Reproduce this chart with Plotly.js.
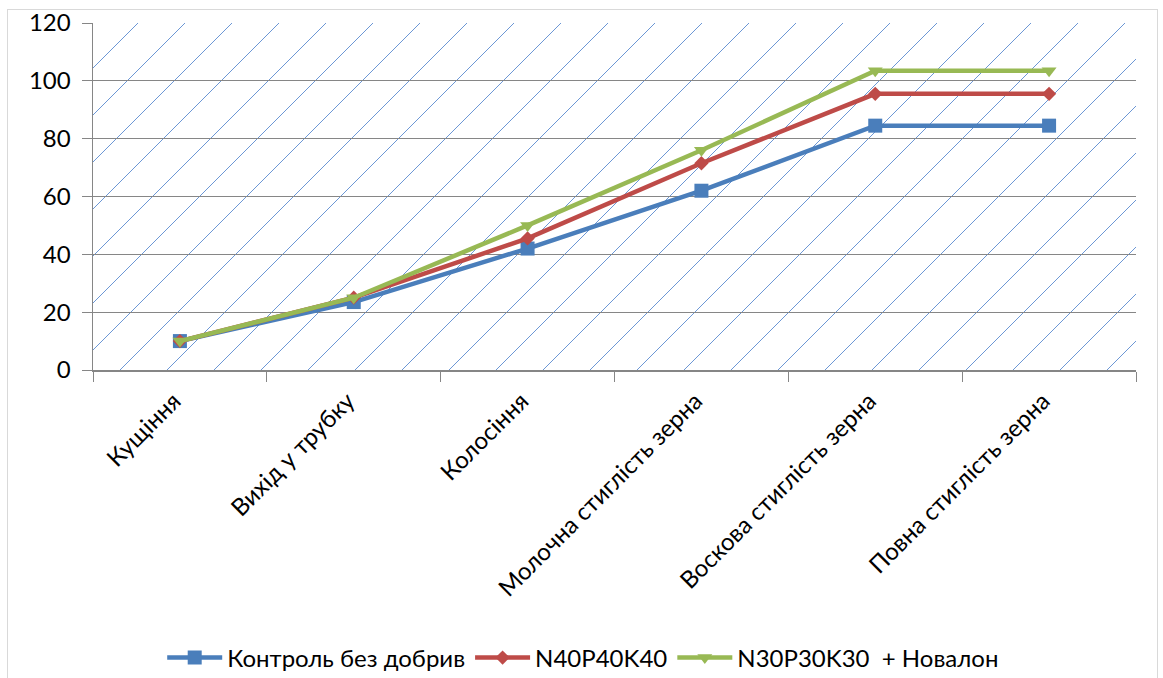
<!DOCTYPE html>
<html>
<head>
<meta charset="utf-8">
<script src="https://cdn.plot.ly/plotly-3.0.1.min.js"></script>
<style>
  html, body { margin:0; padding:0; background:#ffffff; }
  #wrap { position:relative; width:1163px; height:678px; overflow:hidden; background:#ffffff; }
  #frame { position:absolute; left:7px; top:9px; width:1151px; height:700px; border:1.5px solid #d9d9d9; box-sizing:border-box; }
  #hatch { position:absolute; left:93px; top:23px; }
  #chart { position:absolute; left:0; top:0; width:1163px; height:678px; }
</style>
</head>
<body>
<div id="wrap">
  <div id="frame"></div>
  <svg id="hatch" width="1043" height="347" xmlns="http://www.w3.org/2000/svg">
    <defs>
      <pattern id="diag" width="47" height="47" patternUnits="userSpaceOnUse" x="-2" y="0">
        <line x1="-1" y1="48" x2="48" y2="-1" stroke="#5b8bd0" stroke-width="0.9"/>
      </pattern>
    </defs>
    <rect x="0" y="0" width="1043" height="347" fill="url(#diag)"/>
  </svg>
  <div id="chart"></div>
</div>
<script>
const categories = ["Кущіння", "Вихід у трубку", "Колосіння", "Молочна стиглість зерна", "Воскова стиглість зерна", "Повна стиглість зерна"];
const seriesNames = ["Контроль без добрив", "N40P40K40", "N30P30K30  + Новалон"];
const control = [10, 23.5, 42, 62, 84.5, 84.5];
const n40 = [10, 25, 45.5, 71.5, 95.5, 95.5];
const n30 = [10, 25, 50, 76, 103.5, 103.5];
const yTicks = [0, 20, 40, 60, 80, 100, 120];

const FONT = "Lato, 'Open Sans', sans-serif";

const traces = [
  { x: categories, y: control, name: seriesNames[0], type: "scatter", mode: "lines+markers",
    line: { color: "#4a7ebb", width: 4.5 }, marker: { symbol: "square", size: 14, color: "#4a7ebb" } },
  { x: categories, y: n40, name: seriesNames[1], type: "scatter", mode: "lines+markers",
    line: { color: "#be4b48", width: 4.5 }, marker: { symbol: "diamond", size: 11, color: "#be4b48" } },
  { x: categories, y: n30, name: seriesNames[2], type: "scatter", mode: "lines+markers",
    line: { color: "#98b954", width: 4.5 }, marker: { symbol: "triangle-down", size: 13, color: "#98b954" } }
];

const layout = {
  width: 1163, height: 678,
  margin: { l: 93, r: 27, t: 23, b: 308, autoexpand: false },
  paper_bgcolor: "rgba(0,0,0,0)",
  plot_bgcolor: "rgba(0,0,0,0)",
  font: { family: FONT, size: 24, color: "#000000" },
  showlegend: true,
  legend: { orientation: "h", x: 0.47, xanchor: "center", y: -0.83, yanchor: "middle",
    font: { family: FONT, size: 24, color: "#000000" }, bgcolor: "rgba(0,0,0,0)", itemwidth: 55 },
  xaxis: {
    type: "category", range: [-0.5, 5.5], tickangle: -45, automargin: false,
    ticks: "outside", tickson: "boundaries", ticklen: 10, tickcolor: "#868686", tickwidth: 1,
    showline: true, linecolor: "#868686", linewidth: 1.5,
    showgrid: false, zeroline: false, ticklabelstandoff: 6, ticklabelshift: -6,
    tickfont: { family: FONT, size: 24, color: "#000000" }
  },
  yaxis: {
    range: [0, 120], tickvals: yTicks, ticktext: yTicks.map(String), automargin: false,
    ticks: "outside", ticklen: 10, tickcolor: "#868686", tickwidth: 1,
    showline: true, linecolor: "#868686", linewidth: 1.5,
    showgrid: true, gridcolor: "#868686", gridwidth: 1.2, zeroline: false,
    tickfont: { family: FONT, size: 24, color: "#000000" }, ticklabelstandoff: 6
  }
};

Plotly.newPlot("chart", traces, layout, { displayModeBar: false, staticPlot: true });
</script>
</body>
</html>
